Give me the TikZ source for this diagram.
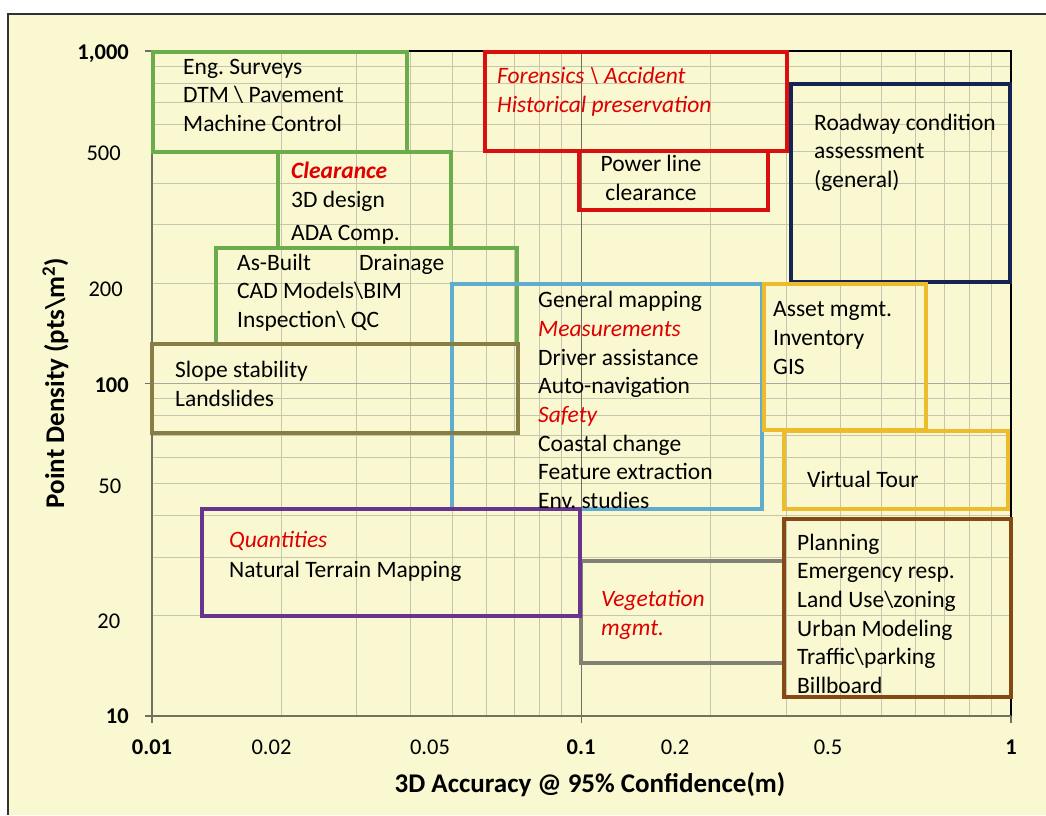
\documentclass[tikz,border=0pt]{standalone}
\usepackage{fontspec}
\setmainfont{Carlito}
\usepackage{xcolor}

\definecolor{bgyel}{RGB}{249,248,209}
\definecolor{gridc}{RGB}{198,198,174}
\definecolor{axisc}{RGB}{112,112,100}
\definecolor{framec}{RGB}{50,50,50}
\definecolor{cgreen}{RGB}{107,173,76}
\definecolor{cred}{RGB}{218,16,16}
\definecolor{cnavy}{RGB}{22,36,84}
\definecolor{cblue}{RGB}{96,172,206}
\definecolor{colive}{RGB}{134,126,68}
\definecolor{cyel}{RGB}{236,188,44}
\definecolor{cbrown}{RGB}{134,72,20}
\definecolor{cgray}{RGB}{128,128,116}
\definecolor{cpurple}{RGB}{104,52,142}
\definecolor{tred}{RGB}{222,0,0}

\newcommand\boxfont{\fontsize{23.5}{28.7}\selectfont}
\newcommand\tickfont{\fontsize{22.5}{27}\selectfont}
\newcommand\titlefont{\fontsize{27}{32}\selectfont\bfseries}
\newcommand\hl[1]{{\color{tred}\itshape #1}}

\begin{document}
\begin{tikzpicture}[x=1pt,y=-1pt,
	every node/.style={inner sep=0pt},
	box/.style={line width=3.2pt},
	txt/.style={anchor=base west, align=left, font=\boxfont},
	ylab/.style={anchor=base east, font=\tickfont},
	xlab/.style={anchor=base, font=\tickfont},
	gridln/.style={gridc, line width=1pt}]
	\useasboundingbox (0,0) rectangle (1046,815);
	% chart area
	\fill [bgyel] (8,14) rectangle (1046,815);
	\draw [framec, line width=2pt] (8,815) -- (8,14) -- (1046,14);
	% log grid
	\foreach \v in {2,...,9} {
		\draw [gridln] ({152+429.5*log10(\v)},51) -- ({152+429.5*log10(\v)},716);
		\draw [gridln] ({581.5+429.5*log10(\v)},51) -- ({581.5+429.5*log10(\v)},716);
		\draw [gridln] (152,{716-332.5*log10(\v)}) -- (1011,{716-332.5*log10(\v)});
		\draw [gridln] (152,{383.5-332.5*log10(\v)}) -- (1011,{383.5-332.5*log10(\v)});
	}
	\draw [axisc, line width=1.2pt] (581.5,51) -- (581.5,716);
	\draw [axisc!60, line width=1pt] (152,383.5) -- (1011,383.5);
	% axes
	\draw [black, line width=2pt] (152,51) -- (1011,51) -- (1011,716);
	\draw [axisc, line width=2pt] (152,51) -- (152,716) -- (1011,716);
	\foreach \t in {51,383.5,716} \draw [axisc, line width=1.2pt] (145,\t) -- (152,\t);
	\foreach \t in {152,581.5,1011} \draw [axisc, line width=1.2pt] (\t,716) -- (\t,723);
	% tick labels
	\node [ylab, font=\tickfont\bfseries] (y1000) at (129,59) {1,000};
	\node [ylab] (y500) at (121,160) {500};
	\node [ylab] (y200) at (123,296) {200};
	\node [ylab, font=\tickfont\bfseries] (y100) at (129,392) {100};
	\node [ylab] (y50) at (121.5,493) {50};
	\node [ylab] (y20) at (120.5,628) {20};
	\node [ylab, font=\tickfont\bfseries] (y10) at (129,723) {10};
	\node [xlab, font=\tickfont\bfseries] (x001) at (152,754) {0.01};
	\node [xlab] (x002) at (271.5,754) {0.02};
	\node [xlab] (x005) at (430,754) {0.05};
	\node [xlab, font=\tickfont\bfseries] (x01) at (581,754) {0.1};
	\node [xlab] (x02) at (675,754) {0.2};
	\node [xlab] (x05) at (828,754) {0.5};
	\node [xlab, font=\tickfont\bfseries] (x1) at (1011,754) {1};
	% axis titles
	\node [anchor=base, font=\titlefont] (xtitle) at (590,792) {3D Accuracy @ 95\% Confidence(m)};
	\node [anchor=base, rotate=90, font=\titlefont] (ytitle) at (64,383) {Point Density (pts\textbackslash m\textsuperscript{2})};
	% application boxes
	\draw [box, cgreen] (153,52) rectangle (407,152);
	\draw [box, cgreen] (278,152) rectangle (451,248);
	\draw [box, cgreen] (216,248) rectangle (517,344);
	\draw [box, cblue] (452,284) rectangle (762,509);
	\draw [box, colive] (152,344) rectangle (518,433);
	\draw [box, cred] (579,151) rectangle (768,210);
	\draw [box, cred] (485,52) rectangle (787,151);
	\draw [box, cnavy] (791,84) rectangle (1010,282);
	\draw [box, cyel] (764,284) rectangle (926,430);
	\draw [box, cyel] (784,431) rectangle (1008,509);
	\draw [box, cgray] (581,561) rectangle (784,663);
	\draw [box, cbrown] (784,519) rectangle (1011,697);
	\draw [box, cpurple] (202,509) rectangle (580,616);
	% box texts (anchored at the baseline of the last line)
	\node [txt] (eng) at (183,131.5) {Eng.\ Surveys\\DTM \textbackslash\ Pavement\\Machine Control};
	\node [txt] (clr) at (291,240) {\textbf{\hl{Clearance}}\\3D design\\[4pt]ADA Comp.};
	\node [txt] (asb) at (237,327.5) {As-Built\\CAD Models\textbackslash BIM\\Inspection\textbackslash\ QC};
	\node [txt] (drn) at (359,270) {Drainage};
	\node [txt] (slope) at (175,406) {Slope stability\\Landslides};
	\begin{scope}
		\clip (452,284) rectangle (762,509);
		\node [txt] (gen) at (538,508.5) {General mapping\\\hl{Measurements}\\Driver assistance\\Auto-navigation\\\hl{Safety}\\Coastal change\\Feature extraction\\Env.\ studies};
	\end{scope}
	\node [txt] (asset) at (773,374) {Asset mgmt.\\Inventory\\GIS};
	\node [txt] (vt) at (807,487) {Virtual Tour};
	\node [txt] (plan) at (797,693.5) {Planning\\Emergency resp.\\Land Use\textbackslash zoning\\Urban Modeling\\Traffic\textbackslash parking\\Billboard};
	\node [txt] (veg) at (601,635) {\hl{Vegetation}\\\hl{mgmt.}};
	\node [txt] (quant) at (229,577) {\hl{Quantities}\\[1pt]Natural Terrain Mapping};
	\node [txt] (foren) at (497,112.5) {\hl{Forensics \textbackslash\ Accident}\\\hl{Historical preservation}};
	\node [anchor=base, align=center, font=\boxfont] (power) at (651,200.5) {Power line\\clearance};
	\node [txt] (road) at (814,187.5) {Roadway condition\\assessment\\(general)};
\end{tikzpicture}
\end{document}
